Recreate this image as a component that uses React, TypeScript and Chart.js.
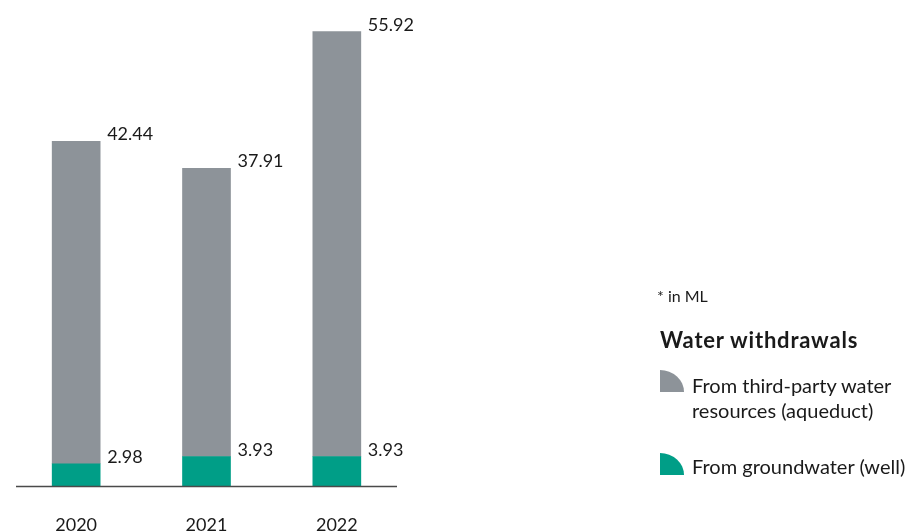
import React, { useEffect, useRef } from "react";
import { Chart, registerables } from "chart.js";

Chart.register(...registerables);

const years = ["2020", "2021", "2022"];
const groundwater = [2.98, 3.93, 3.93];
const thirdParty = [42.44, 37.91, 55.92];
const seriesNames = ["From groundwater (well)", "From third-party water resources (aqueduct)"];
const GREEN = "#009e87";
const GRAY = "#8d9399";
const FONT = "Lato, 'Open Sans', sans-serif";

const labelPlugin = {
  id: "valueLabels",
  afterDatasetsDraw(chart: any) {
    const ctx = chart.ctx;
    ctx.save();
    ctx.font = `18px ${FONT}`;
    ctx.fillStyle = "#1a1a1a";
    ctx.textAlign = "left";
    ctx.textBaseline = "alphabetic";
    chart.data.datasets.forEach((ds: any, di: number) => {
      const meta = chart.getDatasetMeta(di);
      meta.data.forEach((el: any, i: number) => {
        const v = ds.data[i];
        ctx.fillText(v.toFixed(2), el.x + el.width / 2 + 7, el.y - 1);
      });
    });
    const a = chart.chartArea;
    ctx.strokeStyle = "#4a4a4a";
    ctx.lineWidth = 1.5;
    ctx.beginPath();
    ctx.moveTo(a.left + 5, a.bottom);
    ctx.lineTo(a.right - 5, a.bottom);
    ctx.stroke();
    ctx.restore();
  },
};

function LegendIcon({ color, top }: { color: string; top: number }) {
  return (
    <div
      style={{
        position: "absolute",
        left: 660,
        top,
        width: 24,
        height: 22,
        background: color,
        borderTopRightRadius: "24px 22px",
      }}
    />
  );
}

export default function App() {
  const ref = useRef<HTMLCanvasElement | null>(null);
  useEffect(() => {
    if (!ref.current) return;
    const chart = new Chart(ref.current, {
      type: "bar",
      data: {
        labels: years,
        datasets: [
          { label: seriesNames[0], data: groundwater, backgroundColor: GREEN, barThickness: 48 },
          { label: seriesNames[1], data: thirdParty, backgroundColor: GRAY, barThickness: 48 },
        ],
      },
      options: {
        animation: false,
        responsive: false,
        maintainAspectRatio: false,
        layout: { padding: { left: 11, right: 510, top: 0, bottom: 0 } },
        plugins: { legend: { display: false }, tooltip: { enabled: false } },
        scales: {
          x: {
            stacked: true,
            grid: { display: false, drawTicks: false },
            border: { display: false },
            ticks: { color: "#1a1a1a", font: { family: FONT, size: 18 }, padding: 28 },
          },
          y: {
            stacked: true,
            display: false,
            min: 0,
            max: 64,
          },
        },
      },
      plugins: [labelPlugin],
    });
    return () => chart.destroy();
  }, []);

  const txt: React.CSSProperties = { position: "absolute", left: 692, fontSize: 20, lineHeight: "25px", whiteSpace: "nowrap" };

  return (
    <div style={{ position: "fixed", left: 0, top: 0, width: 912, height: 531, background: "#fff", overflow: "hidden", fontFamily: FONT, color: "#1a1a1a" }}>
      <canvas ref={ref} width={912} height={564} style={{ position: "absolute", left: 0, top: 0 }} />
      <div style={{ position: "absolute", left: 657, top: 286, fontSize: 16, lineHeight: "20px" }}>* in ML</div>
      <div style={{ position: "absolute", left: 660, top: 326, fontSize: 22, lineHeight: "28px", fontWeight: 700, letterSpacing: 0.8 }}>Water withdrawals</div>
      <LegendIcon color={GRAY} top={370} />
      <div style={{ ...txt, top: 373 }}>
        From third-party water
        <br />
        resources (aqueduct)
      </div>
      <LegendIcon color={GREEN} top={453} />
      <div style={{ ...txt, top: 454 }}>From groundwater (well)</div>
    </div>
  );
}
